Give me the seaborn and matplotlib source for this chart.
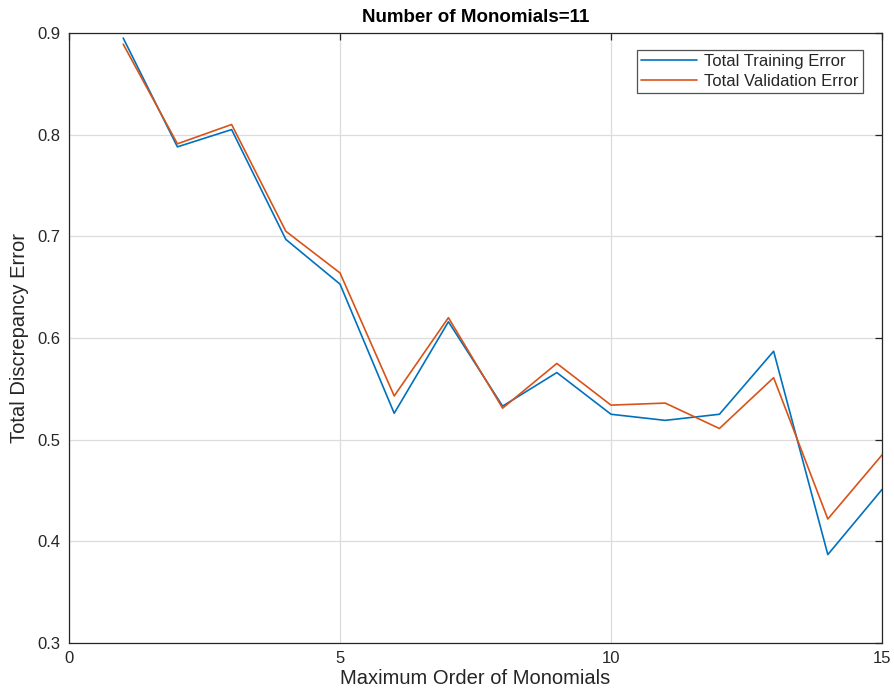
import numpy as np
import pandas as pd
import matplotlib
matplotlib.use("Agg")
import matplotlib.pyplot as plt
import seaborn as sns

# Maximum order of monomials and the corresponding discrepancy errors
orders = list(range(1, 16))
training_error = [0.895, 0.788, 0.805, 0.697, 0.653, 0.526, 0.616, 0.533,
                  0.566, 0.525, 0.519, 0.525, 0.587, 0.387, 0.451]
validation_error = [0.889, 0.791, 0.810, 0.705, 0.664, 0.543, 0.620, 0.531,
                    0.575, 0.534, 0.536, 0.511, 0.561, 0.422, 0.485]
series_names = ["Total Training Error", "Total Validation Error"]
x_ticks = [0, 5, 10, 15]
y_ticks = [0.3, 0.4, 0.5, 0.6, 0.7, 0.8, 0.9]

df = pd.DataFrame({
    "order": orders * 2,
    "error": training_error + validation_error,
    "series": [series_names[0]] * len(orders) + [series_names[1]] * len(orders),
})

sns.set_style("white")
plt.rcParams["font.family"] = ["Liberation Sans", "DejaVu Sans"]

fig = plt.figure(figsize=(8.95, 6.96), dpi=100)
ax = fig.add_axes([0.0771, 0.0761, 0.9084, 0.8765])

palette = {series_names[0]: "#0072BD", series_names[1]: "#D95319"}
sns.lineplot(data=df, x="order", y="error", hue="series", palette=palette,
             linewidth=1.2, ax=ax, legend=True)

ax.set_xlim(0, 15)
ax.set_ylim(0.3, 0.9)
ax.set_xticks(x_ticks)
ax.set_yticks(y_ticks)
ax.set_yticklabels([f"{v:.1f}" for v in y_ticks])

ax.grid(True, color="#dcdcdc", linewidth=0.9)
ax.set_axisbelow(True)
for side in ["left", "right", "top", "bottom"]:
    ax.spines[side].set_visible(True)
    ax.spines[side].set_color("#262626")
    ax.spines[side].set_linewidth(0.9)

ax.tick_params(axis="both", direction="in", length=5, width=0.9,
               color="#262626", labelsize=12, labelcolor="#262626",
               top=True, right=True, pad=6)

label_font = dict(size=14.5, color="#262626")
ax.set_xlabel("Maximum Order of Monomials", **label_font, labelpad=2)
ax.set_ylabel("Total Discrepancy Error", **label_font, labelpad=6)
ax.set_title("Number of Monomials=11", fontsize=13.5, fontweight="bold",
             color="black", pad=8)

leg = ax.legend(loc="upper right", bbox_to_anchor=(0.9766, 0.972),
                fontsize=12, frameon=True, fancybox=False, handlelength=3.35,
                borderpad=0.25, labelspacing=0.3, handletextpad=0.42,
                borderaxespad=0.0)
leg.get_frame().set_edgecolor("#262626")
leg.get_frame().set_linewidth(0.9)
for line in leg.get_lines():
    line.set_linewidth(1.2)

fig.savefig("out.png", dpi=100, facecolor="white")
